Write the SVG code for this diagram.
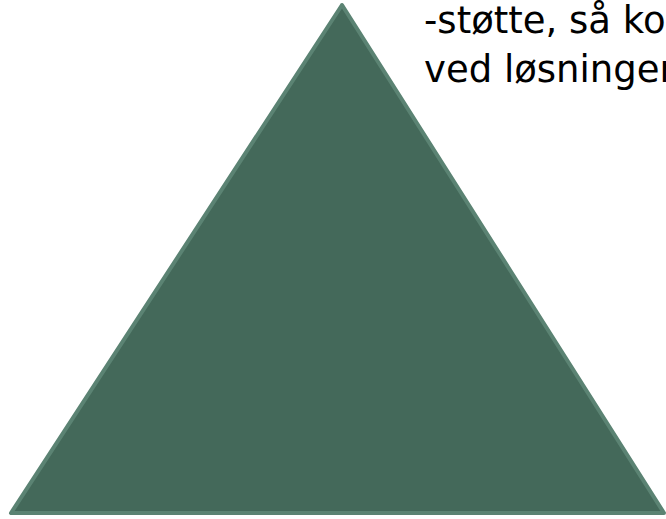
<svg xmlns="http://www.w3.org/2000/svg" width="666" height="519" viewBox="0 0 666 519">
<style>
.tri{fill:#44695a;stroke:#5b8373;stroke-width:4;stroke-linejoin:round}
.txt{font-family:"DejaVu Sans",sans-serif;font-size:37px;fill:#000}
</style>
<rect width="666" height="519" fill="#fff"/>
<g id="triangle">
<polygon class="tri" points="342,5 11,513 664,513"/>
</g>
<g id="label">
<text class="txt" x="424" y="33">-støtte, så ko</text>
<text class="txt" x="424" y="82">ved løsninger</text>
</g>
</svg>
